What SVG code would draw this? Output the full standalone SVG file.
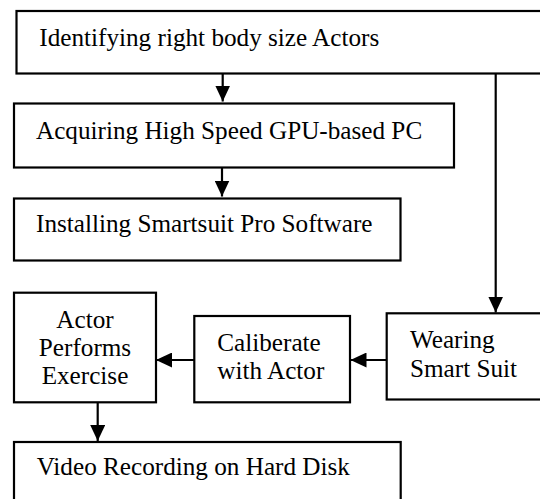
<svg xmlns="http://www.w3.org/2000/svg" width="540" height="499" viewBox="0 0 540 499">
<style>
.box{fill:#fff;stroke:#000;stroke-width:2.2}
.t{font-family:'Liberation Serif','Times New Roman',serif;font-size:25.2px;fill:#000}
.c{stroke:#000;stroke-width:2.2;fill:none}
</style>
<defs>
<marker id="ah" markerWidth="16" markerHeight="15" refX="16" refY="7.5" orient="auto" markerUnits="userSpaceOnUse">
<path d="M0,0 L16,7.5 L0,15 Z" fill="#000"/>
</marker>
</defs>
<rect width="540" height="499" fill="#fff"/>
<g id="n1"><rect class="box" x="16.5" y="11" width="540" height="62.5"/><text class="t" x="39.3" y="45.7">Identifying right body size Actors</text></g>
<g id="n2"><rect class="box" x="14" y="103.5" width="440" height="64"/><text class="t" x="36" y="138.5">Acquiring High Speed GPU-based PC</text></g>
<g id="n3"><rect class="box" x="14" y="198.5" width="386.5" height="62"/><text class="t" x="36" y="232.3">Installing Smartsuit Pro Software</text></g>
<g id="n4"><rect class="box" x="386.7" y="313.3" width="170" height="86.2"/><text class="t" x="410" y="348.3">Wearing</text><text class="t" x="410" y="377.3">Smart Suit</text></g>
<g id="n5"><rect class="box" x="194.3" y="316" width="155.7" height="86.3"/><text class="t" x="217.3" y="350.7">Caliberate</text><text class="t" x="217.3" y="379.3">with Actor</text></g>
<g id="n6"><rect class="box" x="14" y="292.7" width="142" height="109.6"/><text class="t" text-anchor="middle" x="85" y="327.7">Actor</text><text class="t" text-anchor="middle" x="85" y="356">Performs</text><text class="t" text-anchor="middle" x="85" y="384.3">Exercise</text></g>
<g id="n7"><rect class="box" x="14" y="442" width="386.7" height="70"/><text class="t" x="36.7" y="475">Video Recording on Hard Disk</text></g>
<g id="connectors">
<line class="c" x1="222.7" y1="73.5" x2="222.7" y2="101.5" marker-end="url(#ah)"/>
<line class="c" x1="222" y1="167.5" x2="222" y2="196.5" marker-end="url(#ah)"/>
<line class="c" x1="495.7" y1="73.5" x2="495.7" y2="312.5" marker-end="url(#ah)"/>
<line class="c" x1="386.7" y1="360" x2="350.5" y2="360" marker-end="url(#ah)"/>
<line class="c" x1="194.3" y1="360" x2="156" y2="360" marker-end="url(#ah)"/>
<line class="c" x1="97.7" y1="402.3" x2="97.7" y2="441" marker-end="url(#ah)"/>
</g>
</svg>
